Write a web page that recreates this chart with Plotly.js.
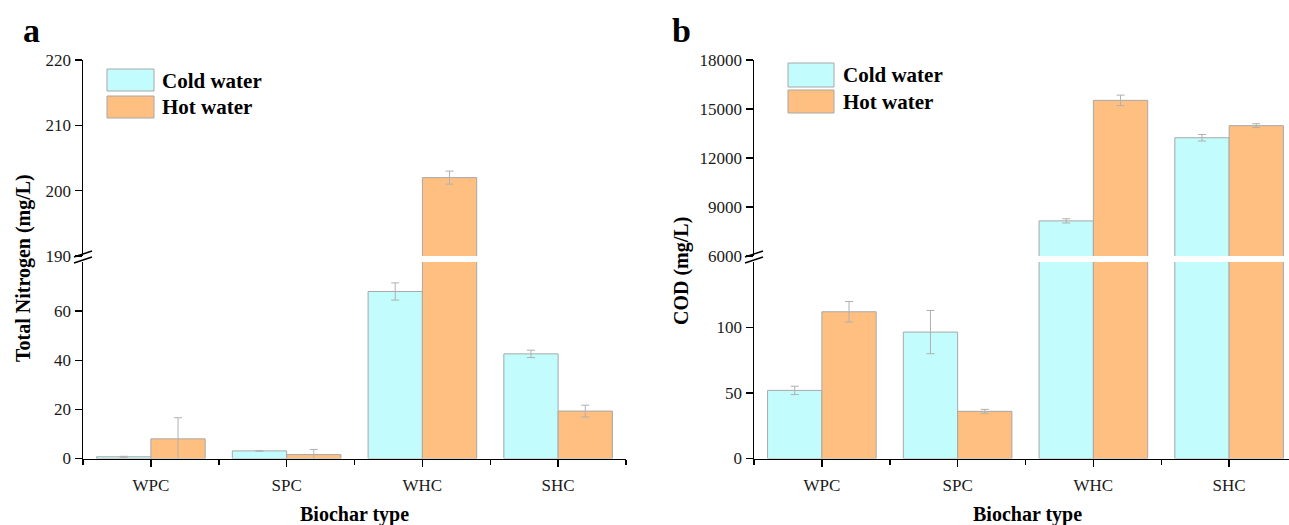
<!DOCTYPE html>
<html>
<head>
<meta charset="utf-8">
<script src="https://cdn.plot.ly/plotly-3.0.1.min.js"></script>
<style>
html,body{margin:0;padding:0;overflow:hidden;background:#fff;}
#chart{width:1300px;height:525px;}
</style>
</head>
<body>
<div id="chart"></div>
<script>
// ---------- data ----------
const categories = ['WPC', 'SPC', 'WHC', 'SHC'];
const seriesNames = ['Cold water', 'Hot water'];

// Panel a: Total Nitrogen (mg/L)
const tnCold    = [0.7, 3.1, 68.0, 42.6];
const tnColdErr = [0.2, 0.1, 3.5, 1.5];
const tnHot     = [8.0, 1.6, 202.0, 19.3];
const tnHotErr  = [8.6, 2.1, 1.0, 2.4];

// Panel b: COD (mg/L)
const codCold    = [52.0, 96.5, 8150, 13240];
const codColdErr = [3.2, 16.5, 130, 200];
const codHot     = [112.0, 36.0, 15530, 13980];
const codHotErr  = [7.8, 1.5, 320, 120];

// axis ticks
const tnLowTicks  = [0, 20, 40, 60];
const tnHighTicks = [190, 200, 210, 220];
const codLowTicks  = [0, 50, 100];
const codHighTicks = [6000, 9000, 12000, 15000, 18000];

// ---------- layout helpers ----------
const W = 1300, H = 525;
const px = v => v / W;
const py = v => 1 - v / H;

const coldColor = '#C2FCFC';
const hotColor = '#FFBF80';
const edgeColor = '#A8A8A8';
const errColor = '#B0B0B0';
const xIdx = categories.map((_, i) => i);

function bar(y, err, color, name, xa, ya) {
  return {
    type: 'bar', x: xIdx, y: y, name: name, xaxis: xa, yaxis: ya,
    marker: {color: color, line: {color: edgeColor, width: 1}},
    error_y: {type: 'data', array: err, visible: true, color: errColor, thickness: 1, width: 4},
    showlegend: false, hoverinfo: 'skip'
  };
}

const traces = [
  bar(tnCold, tnColdErr, coldColor, seriesNames[0], 'x', 'y'),
  bar(tnHot, tnHotErr, hotColor, seriesNames[1], 'x', 'y'),
  bar(tnCold, tnColdErr, coldColor, seriesNames[0], 'x', 'y2'),
  bar(tnHot, tnHotErr, hotColor, seriesNames[1], 'x', 'y2'),
  bar(codCold, codColdErr, coldColor, seriesNames[0], 'x2', 'y3'),
  bar(codHot, codHotErr, hotColor, seriesNames[1], 'x2', 'y3'),
  bar(codCold, codColdErr, coldColor, seriesNames[0], 'x2', 'y4'),
  bar(codHot, codHotErr, hotColor, seriesNames[1], 'x2', 'y4')
];

const tickFont = {family: 'Liberation Serif', size: 17, color: '#1a1a1a'};
const lowDom = [py(458.5), py(262)];
const highDom = [py(256), py(60)];

function xAxis(dom, anchor) {
  return {
    domain: dom, anchor: anchor, range: [-0.5, 3.5],
    tickmode: 'array', tickvals: xIdx, ticktext: categories,
    ticks: 'outside', ticklen: 7, tickwidth: 1.5, tickcolor: '#000',
    minor: {tick0: 0.5, dtick: 1, ticks: 'outside', ticklen: 5, tickwidth: 1.5, tickcolor: '#000', showgrid: false},
    showline: true, linecolor: '#000', linewidth: 1.5,
    showgrid: false, zeroline: false, tickfont: tickFont, ticklabelstandoff: 4,
    fixedrange: true
  };
}
function yAxis(dom, anchor, range, ticks) {
  return {
    domain: dom, anchor: anchor, range: range,
    tickmode: 'array', tickvals: ticks, ticktext: ticks.map(String),
    ticks: 'outside', ticklen: 7, tickwidth: 1.5, tickcolor: '#000',
    showline: true, linecolor: '#000', linewidth: 1.5,
    showgrid: false, zeroline: false, tickfont: tickFont,
    fixedrange: true
  };
}

const annotations = [];
function ann(text, x, y, size, bold, extra) {
  annotations.push(Object.assign({
    text: bold ? '<b>' + text + '</b>' : text,
    xref: 'paper', yref: 'paper', x: px(x), y: py(y),
    showarrow: false, xanchor: 'center', yanchor: 'middle',
    font: {family: 'Liberation Serif', size: size, color: '#000'}
  }, extra || {}));
}
ann('a', 31, 30, 34, true);
ann('b', 681, 30, 34, true);
ann('Total Nitrogen (mg/L)', 23, 268, 20, true, {textangle: -90});
ann('COD (mg/L)', 681, 271, 20, true, {textangle: -90});
ann('Biochar type', 355, 514, 20, true);
ann('Biochar type', 1027, 514, 20, true);
// legend labels
ann(seriesNames[0], 160, 81, 21, true, {xanchor: 'left'});
ann(seriesNames[1], 160, 107, 21, true, {xanchor: 'left'});
ann(seriesNames[0], 841, 75, 21, true, {xanchor: 'left'});
ann(seriesNames[1], 841, 102, 21, true, {xanchor: 'left'});

const shapes = [];
function rect(x0, y0, x1, y1, color) {
  shapes.push({type: 'rect', xref: 'paper', yref: 'paper',
    x0: px(x0), x1: px(x1), y0: py(y1), y1: py(y0),
    fillcolor: color, line: {color: edgeColor, width: 1}});
}
rect(107, 69, 154, 91, coldColor);
rect(107, 96, 154, 118, hotColor);
rect(788, 63, 834, 87, coldColor);
rect(788, 90, 834, 113, hotColor);

function brk(xc) {
  [0, 6].forEach(d => {
    shapes.push({type: 'line', xref: 'paper', yref: 'paper',
      x0: px(xc - 9), y0: py(257 + d), x1: px(xc + 9), y1: py(251 + d),
      line: {color: '#000', width: 1.5}});
  });
}
brk(83);
brk(754);

const layout = {
  width: W, height: H,
  margin: {l: 0, r: 0, t: 0, b: 0},
  paper_bgcolor: '#fff', plot_bgcolor: 'rgba(0,0,0,0)',
  barmode: 'group', bargap: 0.2, bargroupgap: 0,
  showlegend: false,
  xaxis: xAxis([px(83), px(626)], 'y'),
  yaxis: yAxis(lowDom, 'x', [0, 80], tnLowTicks),
  yaxis2: yAxis(highDom, 'x', [190, 220], tnHighTicks),
  xaxis2: xAxis([px(754), px(1297)], 'y3'),
  yaxis3: yAxis(lowDom, 'x2', [0, 150], codLowTicks),
  yaxis4: yAxis(highDom, 'x2', [6000, 18000], codHighTicks),
  annotations: annotations,
  shapes: shapes
};

Plotly.newPlot('chart', traces, layout, {displayModeBar: false, staticPlot: true});
</script>
</body>
</html>
